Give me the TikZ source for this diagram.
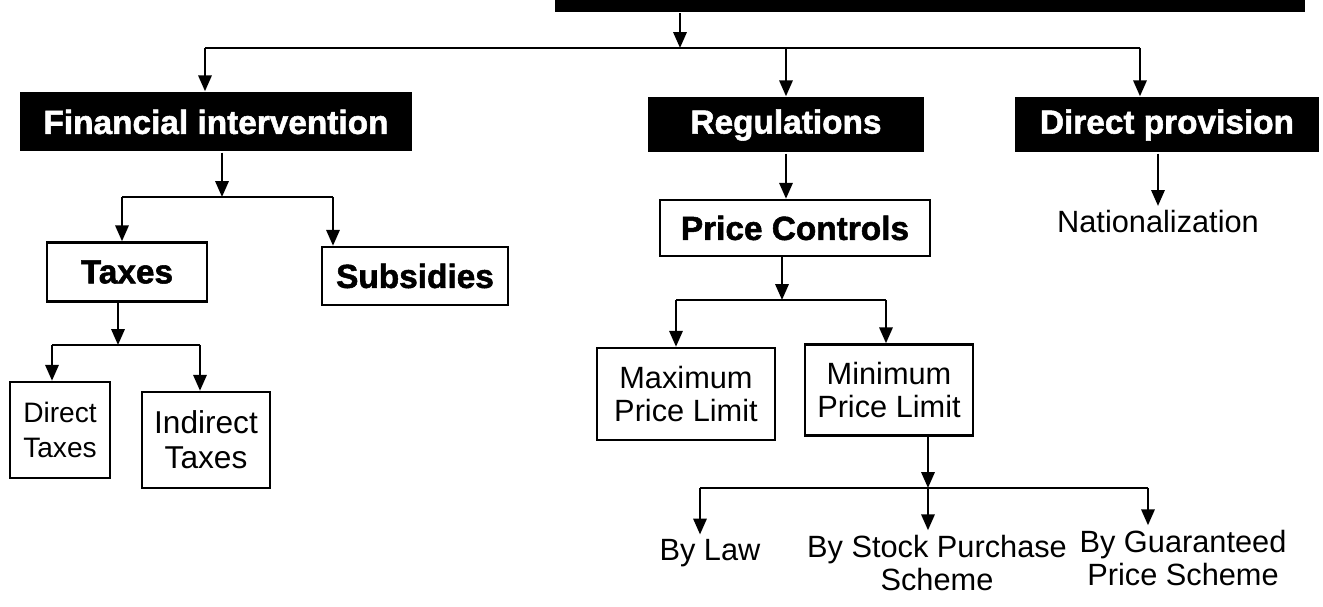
\documentclass[tikz,border=0pt]{standalone}
\usepackage{fontspec}
\setmainfont[BoldFeatures={FakeBold=1.6}]{Liberation Sans}
\usetikzlibrary{arrows.meta}

\begin{document}
\begin{tikzpicture}[x=0.02cm,y=-0.02cm,line width=1.4pt,
    head/.style={fill=black,text=white,inner sep=0pt,
      font=\bfseries\fontsize{19}{22}\selectfont},
    sub/.style={draw,inner sep=0pt,font=\bfseries\fontsize{19}{22}\selectfont},
    leaf/.style={draw,align=center,inner sep=0pt,
      font=\fontsize{17.5}{19}\selectfont},
    plain/.style={align=center,inner sep=2pt,font=\fontsize{17.5}{19}\selectfont}]
  \useasboundingbox (0,0) rectangle (1323,607);
  \draw
    (930,-9) node[head,minimum width=15cm,minimum height=0.84cm] (top){}
    (216,122) node[head,minimum width=7.86cm,minimum height=1.18cm] (fin){Financial intervention}
    (786,125) node[head,minimum width=5.54cm,minimum height=1.1cm] (reg){Regulations}
    (1167,125) node[head,minimum width=6.1cm,minimum height=1.1cm] (dir){Direct provision}
    (127,272) node[sub,minimum width=3.2cm,minimum height=1.18cm] (taxes){Taxes}
    (415,276) node[sub,minimum width=3.72cm,minimum height=1.16cm] (subs){Subsidies}
    (60,430) node[leaf,minimum width=2cm,minimum height=1.92cm,
      font=\fontsize{16}{20}\selectfont] (dtax){Direct\\Taxes}
    (206,440) node[leaf,minimum width=2.56cm,minimum height=1.92cm,
      font=\fontsize{18}{20}\selectfont] (itax){Indirect\\Taxes}
    (795,228) node[sub,minimum width=5.4cm,minimum height=1.12cm] (pc){Price Controls}
    (686,394) node[leaf,minimum width=3.56cm,minimum height=1.84cm] (maxp){Maximum\\Price Limit}
    (889,390) node[leaf,minimum width=3.36cm,minimum height=1.82cm] (minp){Minimum\\Price Limit}
    (1158,222) node[plain] (nat){Nationalization}
    (710,553) node[plain] (law){By Law}
    (937,563) node[plain] (stock){By Stock Purchase\\Scheme}
    (1183,558) node[plain] (guar){By Guaranteed\\Price Scheme};
  \coordinate (j0) at (680,48);
  \coordinate (b0l) at (205,48);
  \coordinate (b0r) at (1140,48);
  \coordinate (j1) at (222,197);
  \coordinate (b1l) at (122,197);
  \coordinate (b1r) at (333,197);
  \coordinate (j2) at (118,345);
  \coordinate (b2l) at (52,345);
  \coordinate (b2r) at (200,345);
  \coordinate (j3) at (782,300);
  \coordinate (b3l) at (676,300);
  \coordinate (b3r) at (886,300);
  \coordinate (j4) at (928,488);
  \coordinate (b4l) at (700,488);
  \coordinate (b4r) at (1148,488);
  \begin{scope}[-]
    \draw (b0l) -- (b0r);
    \draw (b1l) -- (b1r);
    \draw (b2l) -- (b2r);
    \draw (b3l) -- (b3r);
    \draw (b4l) -- (b4r);
  \end{scope}
  \begin{scope}[-{Triangle[length=9pt,width=7.5pt]}]
    \draw (top.south -| j0) -- (j0);
    \draw (b0l) -- (b0l |- fin.north);
    \draw (reg.north |- j0) -- (reg.north);
    \draw (b0r) -- (b0r |- dir.north);
    \draw (fin.south -| j1) -- (j1);
    \draw (b1l) -- (b1l |- taxes.north);
    \draw (b1r) -- (b1r |- subs.north);
    \draw (taxes.south -| j2) -- (j2);
    \draw (b2l) -- (b2l |- dtax.north);
    \draw (b2r) -- (b2r |- itax.north);
    \draw (reg.south) -- (reg.south |- pc.north);
    \draw (pc.south -| j3) -- (j3);
    \draw (b3l) -- (b3l |- maxp.north);
    \draw (b3r) -- (b3r |- minp.north);
    \draw (minp.south -| j4) -- (j4);
    \draw (b4l) -- (b4l |- law.north);
    \draw (j4) -- (j4 |- stock.north);
    \draw (b4r) -- (b4r |- guar.north);
    \draw (dir.south -| nat.north) -- (nat.north);
  \end{scope}
\end{tikzpicture}
\end{document}
